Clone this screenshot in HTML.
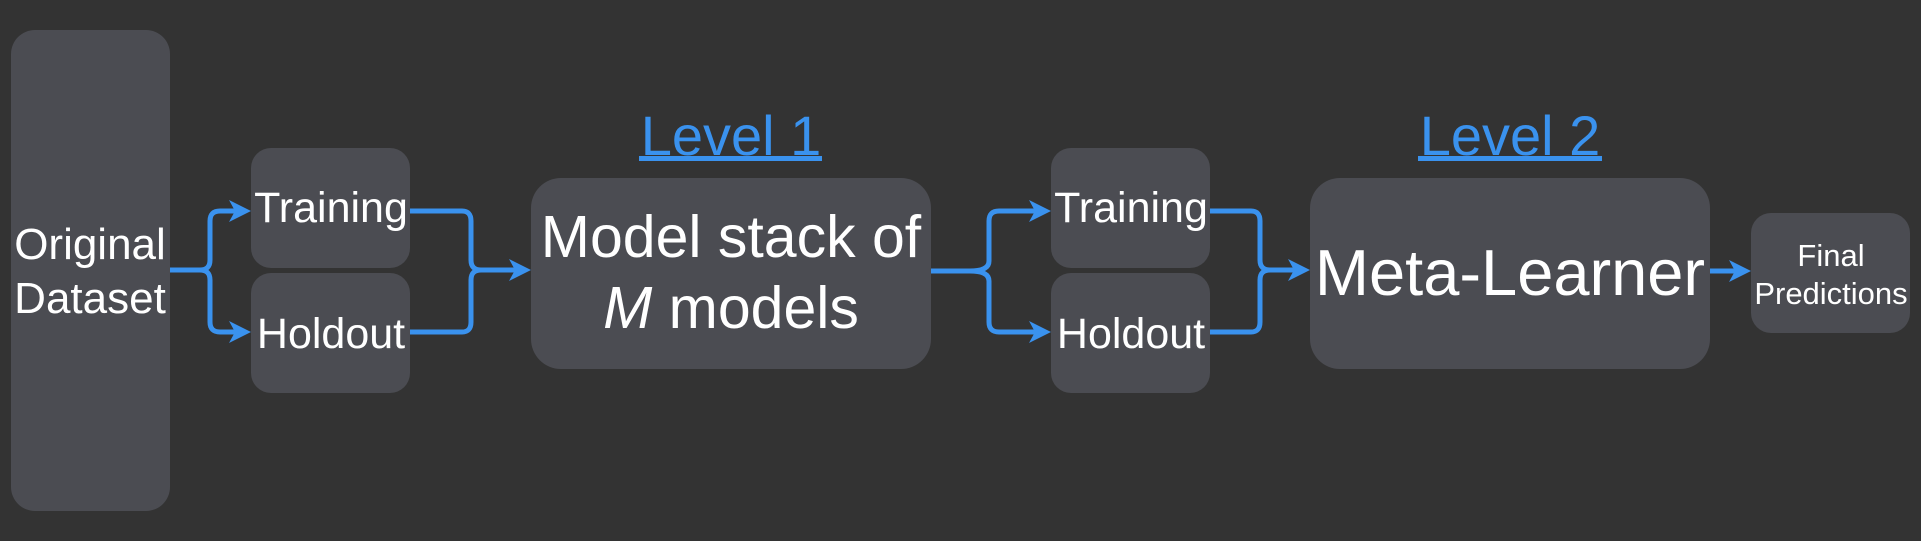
<!DOCTYPE html>
<html><head><meta charset="utf-8"><style>
html,body{margin:0;padding:0;background:#333333;}
svg{display:block;}
text{font-family:"Liberation Sans",Arial,sans-serif;fill:#ffffff;}
</style></head><body>
<svg width="1921" height="541" viewBox="0 0 1921 541" xmlns="http://www.w3.org/2000/svg">
<rect width="1921" height="541" fill="#333333"/>
<g fill="#4b4c52">
<rect x="11" y="30" width="159" height="481" rx="24"/>
<rect x="251" y="148" width="159" height="120" rx="20"/>
<rect x="251" y="273" width="159" height="120" rx="20"/>
<rect x="531" y="178" width="400" height="191" rx="30"/>
<rect x="1051" y="148" width="159" height="120" rx="20"/>
<rect x="1051" y="273" width="159" height="120" rx="20"/>
<rect x="1310" y="178" width="400" height="191" rx="30"/>
<rect x="1751" y="213" width="159" height="120" rx="20"/>
</g>
<g fill="none" stroke="#3a92ee" stroke-width="5" stroke-linejoin="round">
<path d="M170 270 H200 Q210 270 210 260 V221 Q210 211 220 211 H238"/>
<path d="M200 270 Q210 270 210 280 V322 Q210 332 220 332 H238"/>
<path d="M410 211 H462 Q471 211 471 221 V260 Q471 270 481 270 H518"/>
<path d="M410 332 H462 Q471 332 471 322 V280 Q471 270 481 270"/>
<path d="M931 271 H970 Q989 271 989 261 V221 Q989 211 999 211 H1038"/>
<path d="M970 271 Q989 271 989 281 V322 Q989 332 999 332 H1038"/>
<path d="M1210 211 H1251 Q1260 211 1260 221 V260 Q1260 270 1270 270 H1297"/>
<path d="M1210 332 H1251 Q1260 332 1260 322 V280 Q1260 270 1270 270"/>
<path d="M1710 271 H1738"/>
</g>
<g fill="#3a92ee">
<polygon points="251,211 229,200 235,211 229,222"/>
<polygon points="251,332 229,321 235,332 229,343"/>
<polygon points="531,270 509,259 515,270 509,281"/>
<polygon points="1051,211 1029,200 1035,211 1029,222"/>
<polygon points="1051,332 1029,321 1035,332 1029,343"/>
<polygon points="1310,270 1288,259 1294,270 1288,281"/>
<polygon points="1751,271 1729,260 1735,271 1729,282"/>
</g>
<text x="90" y="259" font-size="44" text-anchor="middle">Original</text>
<text x="90" y="313" font-size="44" text-anchor="middle">Dataset</text>
<text x="331" y="222" font-size="43" text-anchor="middle">Training</text>
<text x="331" y="348" font-size="43" text-anchor="middle">Holdout</text>
<text x="1131" y="222" font-size="43" text-anchor="middle">Training</text>
<text x="1131" y="348" font-size="43" text-anchor="middle">Holdout</text>
<text x="731" y="257" font-size="59" text-anchor="middle">Model stack of</text>
<text x="731" y="328" font-size="59" text-anchor="middle"><tspan font-style="italic">M</tspan> models</text>
<text x="1510" y="295" font-size="65" text-anchor="middle">Meta-Learner</text>
<text x="1831" y="266" font-size="31" text-anchor="middle">Final</text>
<text x="1831" y="304" font-size="31" text-anchor="middle">Predictions</text>
<text x="731" y="155" font-size="56" text-anchor="middle" style="fill:#3a92ee">Level 1</text>
<rect x="639" y="156" width="183" height="5" fill="#3a92ee"/>
<text x="1510" y="155" font-size="56" text-anchor="middle" style="fill:#3a92ee">Level 2</text>
<rect x="1418" y="156" width="184" height="5" fill="#3a92ee"/>
</svg>
</body></html>
